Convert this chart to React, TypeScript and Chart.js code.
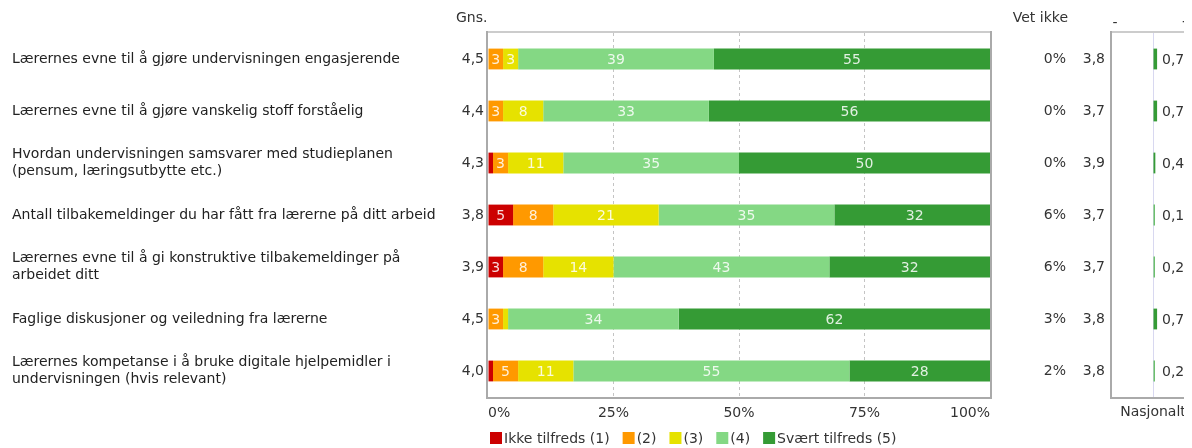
import { useEffect, useRef } from "react";
import { Chart, registerables } from "chart.js";
Chart.register(...registerables);

const FONT = "DejaVu Sans";
const TEXT = "#333333";

const categories: (string | string[])[] = [
  "Lærernes evne til å gjøre undervisningen engasjerende",
  "Lærernes evne til å gjøre vanskelig stoff forståelig",
  ["Hvordan undervisningen samsvarer med studieplanen", "(pensum, læringsutbytte etc.)"],
  "Antall tilbakemeldinger du har fått fra lærerne på ditt arbeid",
  ["Lærernes evne til å gi konstruktive tilbakemeldinger på", "arbeidet ditt"],
  "Faglige diskusjoner og veiledning fra lærerne",
  ["Lærernes kompetanse i å bruke digitale hjelpemidler i", "undervisningen (hvis relevant)"],
];

const seriesNames = ["Ikke tilfreds (1)", "(2)", "(3)", "(4)", "Svært tilfreds (5)"];
const seriesColors = ["#cc0000", "#ff9900", "#e6e200", "#84d884", "#359b35"];

const ikkeTilfreds = [0, 0, 1, 5, 3, 0, 1];
const score2 = [3, 3, 3, 8, 8, 3, 5];
const score3 = [3, 8, 11, 21, 14, 1, 11];
const score4 = [39, 33, 35, 35, 43, 34, 55];
const svaertTilfreds = [55, 56, 50, 32, 32, 62, 28];

const gnsLabels = ["4,5", "4,4", "4,3", "3,8", "3,9", "4,5", "4,0"];
const vetIkkeLabels = ["0%", "0%", "0%", "6%", "6%", "3%", "2%"];
const nasjonaltSnitt = ["3,8", "3,7", "3,9", "3,7", "3,7", "3,8", "3,8"];
const nasjonaltDiff = [0.7, 0.7, 0.4, 0.1, 0.2, 0.7, 0.2];
const nasjonaltSignifikant = [true, true, true, false, false, true, false];

const xTickStep = 25;

const font14 = { family: FONT, size: 14, lineHeight: 1.2 };

function drawFrame(ctx: CanvasRenderingContext2D, area: any) {
  const { left, right, top, bottom } = area;
  ctx.lineWidth = 2;
  ctx.strokeStyle = "#cccccc";
  ctx.beginPath();
  ctx.moveTo(left - 2, top - 1);
  ctx.lineTo(right + 2, top - 1);
  ctx.stroke();
  ctx.strokeStyle = "#aaaaaa";
  ctx.beginPath();
  ctx.moveTo(left - 1, top - 2);
  ctx.lineTo(left - 1, bottom + 2);
  ctx.moveTo(right + 1, top - 2);
  ctx.lineTo(right + 1, bottom + 2);
  ctx.moveTo(left - 2, bottom + 1);
  ctx.lineTo(right + 2, bottom + 1);
  ctx.stroke();
}

const mainPlugin = {
  id: "mainDecor",
  afterDatasetsDraw(chart: any) {
    const ctx = chart.ctx;
    ctx.save();
    ctx.font = `14px "${FONT}"`;
    ctx.textAlign = "center";
    ctx.textBaseline = "middle";
    ctx.fillStyle = "rgba(255,255,255,0.85)";
    chart.data.datasets.forEach((ds: any, i: number) => {
      const meta = chart.getDatasetMeta(i);
      meta.data.forEach((bar: any, j: number) => {
        const v = ds.data[j];
        if (v >= 3) {
          const p = bar.getProps(["x", "base", "y"], true);
          ctx.fillText(String(v), (p.x + p.base) / 2, p.y + 1);
        }
      });
    });
    ctx.restore();
  },
  afterDraw(chart: any) {
    const ctx = chart.ctx;
    ctx.save();
    drawFrame(ctx, chart.chartArea);

    ctx.font = `14px "${FONT}"`;
    ctx.fillStyle = TEXT;
    ctx.textBaseline = "middle";
    ctx.textAlign = "left";
    ctx.fillText("Gns.", 448, 10);
    ctx.textAlign = "right";
    ctx.fillText("Vet ikke", 1060, 10);

    // legend
    let x = chart.chartArea.left + 2;
    const cy = 430;
    ctx.textAlign = "left";
    chart.data.datasets.forEach((ds: any) => {
      ctx.fillStyle = ds.backgroundColor;
      ctx.fillRect(x, cy - 6, 12, 12);
      ctx.fillStyle = TEXT;
      ctx.fillText(ds.label, x + 14, cy + 1);
      x += 14 + ctx.measureText(ds.label).width + 13;
    });
    ctx.restore();
  },
};

const natPlugin = {
  id: "natDecor",
  afterDraw(chart: any) {
    const ctx = chart.ctx;
    const { left, right } = chart.chartArea;
    ctx.save();
    drawFrame(ctx, chart.chartArea);

    ctx.font = `14px "${FONT}"`;
    ctx.fillStyle = TEXT;
    ctx.textBaseline = "middle";
    ctx.textAlign = "center";
    ctx.fillText("-", left + 3, 15);
    ctx.fillText("+", right - 7, 14);

    const xs = chart.scales.x;
    const zero = xs.getPixelForValue(0);
    ctx.textAlign = "left";
    const meta = chart.getDatasetMeta(0);
    meta.data.forEach((bar: any, j: number) => {
      const v = chart.data.datasets[0].data[j];
      const p = bar.getProps(["y"], true);
      ctx.fillText(v.toFixed(1).replace(".", ","), zero + 9, p.y + 1);
    });
    ctx.restore();
  },
};

export default function App() {
  const mainRef = useRef<HTMLCanvasElement>(null);
  const natRef = useRef<HTMLCanvasElement>(null);

  useEffect(() => {
    Chart.defaults.font.family = FONT;
    Chart.defaults.font.size = 14;
    Chart.defaults.color = TEXT;

    const seriesData = [ikkeTilfreds, score2, score3, score4, svaertTilfreds];

    const main = new Chart(mainRef.current!, {
      type: "bar",
      data: {
        labels: categories as any,
        datasets: seriesData.map((d, i) => ({
          label: seriesNames[i],
          data: d,
          backgroundColor: seriesColors[i],
          borderWidth: 0,
          barPercentage: 0.4,
          categoryPercentage: 1,
        })),
      },
      options: {
        indexAxis: "y",
        responsive: false,
        animation: false,
        events: [],
        layout: { padding: { left: 4, right: 3, top: 25, bottom: 27 } },
        plugins: { legend: { display: false }, tooltip: { enabled: false } },
        scales: {
          x: {
            stacked: true,
            min: 0,
            max: 100,
            ticks: {
              stepSize: xTickStep,
              align: "inner",
              padding: 8,
              font: font14,
              color: TEXT,
              callback: (v: any) => v + "%",
            },
            grid: {
              drawTicks: false,
              color: (c: any) =>
                c.tick && (c.tick.value === 0 || c.tick.value === 100) ? "rgba(0,0,0,0)" : "#c4c4c4",
            },
            border: { display: false, dash: [3, 3] },
            afterFit: (s: any) => {
              s.height = 24;
            },
          },
          y: {
            stacked: true,
            position: "left",
            weight: 2,
            grid: { display: false, drawTicks: false },
            border: { display: false },
            ticks: { crossAlign: "far", autoSkip: false, padding: 0, font: font14, color: "#222222" },
            afterFit: (s: any) => {
              s.width = 436;
            },
          },
          yGns: {
            type: "category",
            labels: gnsLabels,
            position: "left",
            weight: 1,
            grid: { display: false, drawTicks: false },
            border: { display: false },
            ticks: { autoSkip: false, padding: 4, font: font14, color: TEXT },
            afterFit: (s: any) => {
              s.width = 40;
            },
          },
          yVet: {
            type: "category",
            labels: vetIkkeLabels,
            position: "right",
            weight: 1,
            grid: { display: false, drawTicks: false },
            border: { display: false },
            ticks: { crossAlign: "far", autoSkip: false, padding: 0, font: font14, color: TEXT },
            afterFit: (s: any) => {
              s.width = 76;
            },
          },
          yNat: {
            type: "category",
            labels: nasjonaltSnitt,
            position: "right",
            weight: 2,
            grid: { display: false, drawTicks: false },
            border: { display: false },
            ticks: { crossAlign: "far", autoSkip: false, padding: 0, font: font14, color: TEXT },
            afterFit: (s: any) => {
              s.width = 39;
            },
          },
        } as any,
      },
      plugins: [mainPlugin],
    });

    const nat = new Chart(natRef.current!, {
      type: "bar",
      data: {
        labels: categories.map((_, i) => String(i)),
        datasets: [
          {
            label: "Nasjonalt",
            data: nasjonaltDiff,
            backgroundColor: nasjonaltSignifikant.map((s) => (s ? "#359b35" : "#6cc06c")),
            borderWidth: 0,
            barPercentage: 0.4,
            categoryPercentage: 1,
            minBarLength: 2,
          },
        ],
      },
      options: {
        indexAxis: "y",
        responsive: false,
        animation: false,
        events: [],
        layout: { padding: { left: 4, right: 4, top: 25, bottom: 21 } },
        plugins: { legend: { display: false }, tooltip: { enabled: false } },
        scales: {
          x: {
            min: -7,
            max: 7,
            ticks: { display: false, stepSize: 7 },
            grid: {
              drawTicks: false,
              color: (c: any) => (c.tick && c.tick.value === 0 ? "#d8d8f0" : "rgba(0,0,0,0)"),
            },
            border: { display: false },
            title: {
              display: true,
              text: "Nasjonalt",
              font: font14,
              color: TEXT,
              padding: { top: 0, bottom: 6 },
            },
            afterFit: (s: any) => {
              s.height = 30;
            },
          },
          y: { display: false },
        } as any,
      },
      plugins: [natPlugin],
    });

    return () => {
      main.destroy();
      nat.destroy();
    };
  }, []);

  return (
    <div style={{ position: "relative", width: 1184, height: 440, overflow: "hidden" }}>
      <style>{"html{overflow:hidden}"}</style>
      <canvas
        ref={mainRef}
        width={1100}
        height={440}
        style={{ position: "absolute", left: 0, top: 0, display: "block" }}
      />
      <canvas
        ref={natRef}
        width={90}
        height={440}
        style={{ position: "absolute", left: 1100, top: 0, display: "block" }}
      />
    </div>
  );
}
